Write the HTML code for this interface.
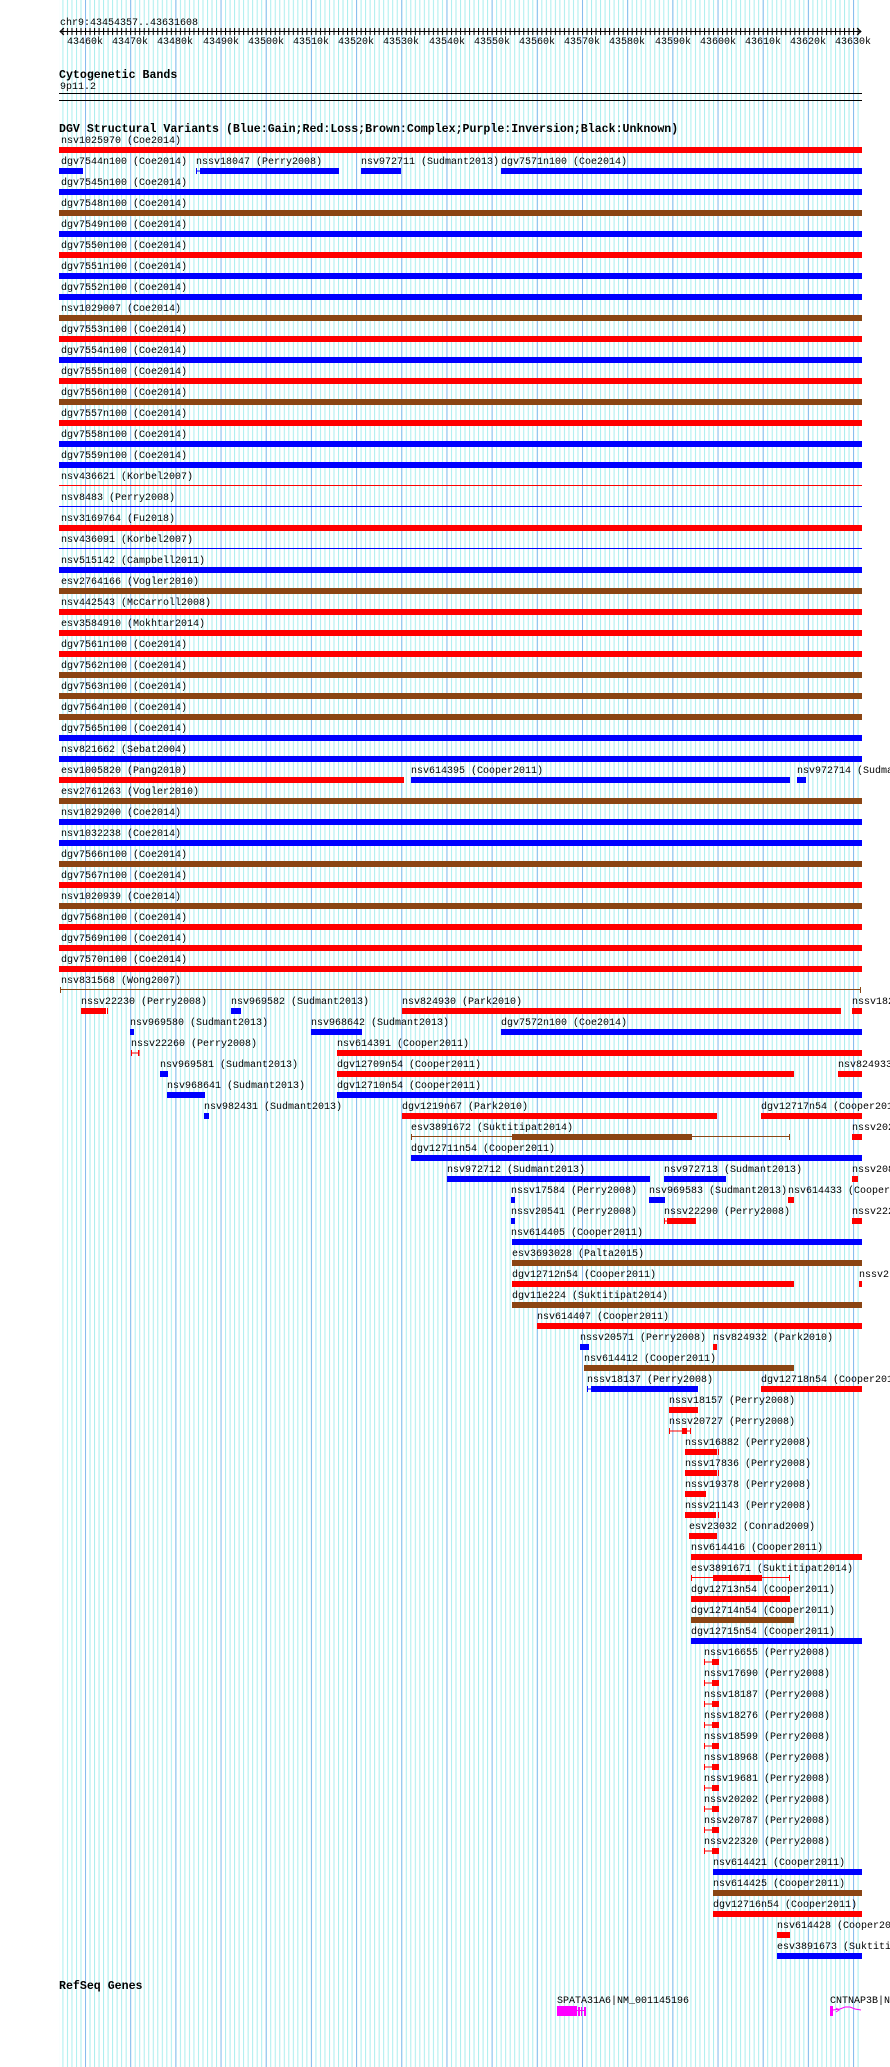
<!DOCTYPE html>
<html><head><meta charset="utf-8"><style>
html,body{margin:0;padding:0;background:#fff;}
svg{display:block;}
text{font-family:"Liberation Mono",monospace;font-size:10px;fill:#000;}
.b{font-weight:bold;font-size:11.6px;}
</style></head><body>
<svg width="890" height="2067" xmlns="http://www.w3.org/2000/svg">
<defs>
<pattern id="lg" patternUnits="userSpaceOnUse" x="85" y="0" width="4.518" height="10"><rect x="0" y="0" width="1" height="10" fill="#aaeeee"/></pattern>
<pattern id="dg" patternUnits="userSpaceOnUse" x="85" y="0" width="45.18" height="10"><rect x="0" y="0" width="1" height="10" fill="#88bbee"/></pattern>
</defs>
<rect x="59" y="0" width="800" height="2067" fill="url(#lg)"/>
<rect x="59" y="0" width="800" height="2067" fill="url(#dg)"/>

<!-- ruler -->
<text x="60" y="25">chr9:43454357..43631608</text>
<rect x="60" y="31" width="801" height="1" fill="#000"/>
<polyline points="64,28 60,31.5 64,35" fill="none" stroke="#000"/>
<polyline points="857,28 861,31.5 857,35" fill="none" stroke="#000"/>
<rect x="59.5" y="28" width="800" height="7" fill="url(#tk)"/>
<defs><pattern id="tk" patternUnits="userSpaceOnUse" x="85" y="0" width="4.518" height="40"><rect x="0" y="28" width="1" height="7" fill="#000"/></pattern></defs>
<g text-anchor="middle">
<text x="85" y="44">43460k</text><text x="130" y="44">43470k</text><text x="175" y="44">43480k</text><text x="221" y="44">43490k</text><text x="266" y="44">43500k</text><text x="311" y="44">43510k</text><text x="356" y="44">43520k</text><text x="401" y="44">43530k</text><text x="447" y="44">43540k</text><text x="492" y="44">43550k</text><text x="537" y="44">43560k</text><text x="582" y="44">43570k</text><text x="627" y="44">43580k</text><text x="673" y="44">43590k</text><text x="718" y="44">43600k</text><text x="763" y="44">43610k</text><text x="808" y="44">43620k</text><text x="853" y="44">43630k</text>
</g>

<text class="b" x="59" y="78">Cytogenetic Bands</text>
<text x="60" y="89">9p11.2</text>
<rect x="59" y="93" width="803" height="1" fill="#000"/>
<rect x="59" y="100" width="803" height="1" fill="#000"/>
<text class="b" x="59" y="132">DGV Structural Variants (Blue:Gain;Red:Loss;Brown:Complex;Purple:Inversion;Black:Unknown)</text>

<!-- rows 0-40 -->
<text x="61" y="143">nsv1025970 (Coe2014)</text><rect x="59" y="147" width="803" height="6" fill="#f00"/>
<text x="61" y="164">dgv7544n100 (Coe2014)</text><rect x="59" y="168" width="24" height="6" fill="#00f"/>
<text x="196" y="164">nssv18047 (Perry2008)</text><rect x="196" y="168" width="1" height="6" fill="#00f"/><rect x="196" y="170.5" width="5" height="1" fill="#00f"/><rect x="200" y="168" width="139" height="6" fill="#00f"/>
<text x="361" y="164">nsv972711 (Sudmant2013)</text><rect x="361" y="168" width="40" height="6" fill="#00f"/>
<text x="501" y="164">dgv7571n100 (Coe2014)</text><rect x="501" y="168" width="361" height="6" fill="#00f"/>
<text x="61" y="185">dgv7545n100 (Coe2014)</text><rect x="59" y="189" width="803" height="6" fill="#00f"/>
<text x="61" y="206">dgv7548n100 (Coe2014)</text><rect x="59" y="210" width="803" height="6" fill="#8b4513"/>
<text x="61" y="227">dgv7549n100 (Coe2014)</text><rect x="59" y="231" width="803" height="6" fill="#00f"/>
<text x="61" y="248">dgv7550n100 (Coe2014)</text><rect x="59" y="252" width="803" height="6" fill="#f00"/>
<text x="61" y="269">dgv7551n100 (Coe2014)</text><rect x="59" y="273" width="803" height="6" fill="#00f"/>
<text x="61" y="290">dgv7552n100 (Coe2014)</text><rect x="59" y="294" width="803" height="6" fill="#00f"/>
<text x="61" y="311">nsv1029007 (Coe2014)</text><rect x="59" y="315" width="803" height="6" fill="#8b4513"/>
<text x="61" y="332">dgv7553n100 (Coe2014)</text><rect x="59" y="336" width="803" height="6" fill="#f00"/>
<text x="61" y="353">dgv7554n100 (Coe2014)</text><rect x="59" y="357" width="803" height="6" fill="#00f"/>
<text x="61" y="374">dgv7555n100 (Coe2014)</text><rect x="59" y="378" width="803" height="6" fill="#f00"/>
<text x="61" y="395">dgv7556n100 (Coe2014)</text><rect x="59" y="399" width="803" height="6" fill="#8b4513"/>
<text x="61" y="416">dgv7557n100 (Coe2014)</text><rect x="59" y="420" width="803" height="6" fill="#f00"/>
<text x="61" y="437">dgv7558n100 (Coe2014)</text><rect x="59" y="441" width="803" height="6" fill="#00f"/>
<text x="61" y="458">dgv7559n100 (Coe2014)</text><rect x="59" y="462" width="803" height="6" fill="#00f"/>
<text x="61" y="479">nsv436621 (Korbel2007)</text><rect x="59" y="485" width="803" height="1" fill="#f00"/>
<text x="61" y="500">nsv8483 (Perry2008)</text><rect x="59" y="506" width="803" height="1" fill="#00f"/>
<text x="61" y="521">nsv3169764 (Fu2018)</text><rect x="59" y="525" width="803" height="6" fill="#f00"/>
<text x="61" y="542">nsv436091 (Korbel2007)</text><rect x="59" y="548" width="803" height="1" fill="#00f"/>
<text x="61" y="563">nsv515142 (Campbell2011)</text><rect x="59" y="567" width="803" height="6" fill="#00f"/>
<text x="61" y="584">esv2764166 (Vogler2010)</text><rect x="59" y="588" width="803" height="6" fill="#8b4513"/>
<text x="61" y="605">nsv442543 (McCarroll2008)</text><rect x="59" y="609" width="803" height="6" fill="#f00"/>
<text x="61" y="626">esv3584910 (Mokhtar2014)</text><rect x="59" y="630" width="803" height="6" fill="#f00"/>
<text x="61" y="647">dgv7561n100 (Coe2014)</text><rect x="59" y="651" width="803" height="6" fill="#f00"/>
<text x="61" y="668">dgv7562n100 (Coe2014)</text><rect x="59" y="672" width="803" height="6" fill="#8b4513"/>
<text x="61" y="689">dgv7563n100 (Coe2014)</text><rect x="59" y="693" width="803" height="6" fill="#8b4513"/>
<text x="61" y="710">dgv7564n100 (Coe2014)</text><rect x="59" y="714" width="803" height="6" fill="#8b4513"/>
<text x="61" y="731">dgv7565n100 (Coe2014)</text><rect x="59" y="735" width="803" height="6" fill="#00f"/>
<text x="61" y="752">nsv821662 (Sebat2004)</text><rect x="59" y="756" width="803" height="6" fill="#00f"/>
<text x="61" y="773">esv1005820 (Pang2010)</text><rect x="59" y="777" width="345" height="6" fill="#f00"/>
<text x="411" y="773">nsv614395 (Cooper2011)</text><rect x="411" y="777" width="379" height="6" fill="#00f"/>
<text x="797" y="773">nsv972714 (Sudma</text><rect x="797" y="777" width="9" height="6" fill="#00f"/>
<text x="61" y="794">esv2761263 (Vogler2010)</text><rect x="59" y="798" width="803" height="6" fill="#8b4513"/>
<text x="61" y="815">nsv1029200 (Coe2014)</text><rect x="59" y="819" width="803" height="6" fill="#00f"/>
<text x="61" y="836">nsv1032238 (Coe2014)</text><rect x="59" y="840" width="803" height="6" fill="#00f"/>
<text x="61" y="857">dgv7566n100 (Coe2014)</text><rect x="59" y="861" width="803" height="6" fill="#8b4513"/>
<text x="61" y="878">dgv7567n100 (Coe2014)</text><rect x="59" y="882" width="803" height="6" fill="#f00"/>
<text x="61" y="899">nsv1020939 (Coe2014)</text><rect x="59" y="903" width="803" height="6" fill="#8b4513"/>
<text x="61" y="920">dgv7568n100 (Coe2014)</text><rect x="59" y="924" width="803" height="6" fill="#f00"/>
<text x="61" y="941">dgv7569n100 (Coe2014)</text><rect x="59" y="945" width="803" height="6" fill="#f00"/>
<text x="61" y="962">dgv7570n100 (Coe2014)</text><rect x="59" y="966" width="803" height="6" fill="#f00"/>
<text x="61" y="983">nsv831568 (Wong2007)</text><rect x="60" y="989" width="801" height="1" fill="#8b4513"/><rect x="60" y="987" width="1" height="6" fill="#8b4513"/><rect x="860" y="987" width="1" height="6" fill="#8b4513"/>

<!-- row 41 -->
<text x="81" y="1004">nssv22230 (Perry2008)</text><rect x="81" y="1008" width="25" height="6" fill="#f00"/><rect x="107" y="1008" width="1" height="6" fill="#f00"/>
<text x="231" y="1004">nsv969582 (Sudmant2013)</text><rect x="231" y="1008" width="10" height="6" fill="#00f"/>
<text x="402" y="1004">nsv824930 (Park2010)</text><rect x="402" y="1008" width="439" height="6" fill="#f00"/>
<text x="852" y="1004">nssv182</text><rect x="852" y="1008" width="10" height="6" fill="#f00"/>
<!-- 42 -->
<text x="130" y="1025">nsv969580 (Sudmant2013)</text><rect x="130" y="1029" width="4" height="6" fill="#00f"/>
<text x="311" y="1025">nsv968642 (Sudmant2013)</text><rect x="311" y="1029" width="51" height="6" fill="#00f"/>
<text x="501" y="1025">dgv7572n100 (Coe2014)</text><rect x="501" y="1029" width="361" height="6" fill="#00f"/>
<!-- 43 -->
<text x="131" y="1046">nssv22260 (Perry2008)</text><rect x="131" y="1050" width="1" height="6" fill="#f00"/><rect x="131" y="1052.5" width="8" height="1" fill="#f00"/><rect x="138" y="1050" width="1.5" height="6" fill="#f00"/>
<text x="337" y="1046">nsv614391 (Cooper2011)</text><rect x="337" y="1050" width="525" height="6" fill="#f00"/>
<!-- 44 -->
<text x="160" y="1067">nsv969581 (Sudmant2013)</text><rect x="160" y="1071" width="8" height="6" fill="#00f"/>
<text x="337" y="1067">dgv12709n54 (Cooper2011)</text><rect x="337" y="1071" width="457" height="6" fill="#f00"/>
<text x="838" y="1067">nsv824933</text><rect x="838" y="1071" width="24" height="6" fill="#f00"/>
<!-- 45 -->
<text x="167" y="1088">nsv968641 (Sudmant2013)</text><rect x="167" y="1092" width="38" height="6" fill="#00f"/>
<text x="337" y="1088">dgv12710n54 (Cooper2011)</text><rect x="337" y="1092" width="525" height="6" fill="#00f"/>
<!-- 46 -->
<text x="204" y="1109">nsv982431 (Sudmant2013)</text><rect x="204" y="1113" width="5" height="6" fill="#00f"/>
<text x="402" y="1109">dgv1219n67 (Park2010)</text><rect x="402" y="1113" width="315" height="6" fill="#f00"/>
<text x="761" y="1109">dgv12717n54 (Cooper201</text><rect x="761" y="1113" width="101" height="6" fill="#f00"/>
<!-- 47 -->
<text x="411" y="1130">esv3891672 (Suktitipat2014)</text><rect x="411" y="1136" width="379" height="1" fill="#8b4513"/><rect x="411" y="1134" width="1" height="6" fill="#8b4513"/><rect x="789" y="1134" width="1" height="6" fill="#8b4513"/><rect x="512" y="1134" width="180" height="6" fill="#8b4513"/>
<text x="852" y="1130">nssv202</text><rect x="852" y="1134" width="10" height="6" fill="#f00"/>
<!-- 48 -->
<text x="411" y="1151">dgv12711n54 (Cooper2011)</text><rect x="411" y="1155" width="451" height="6" fill="#00f"/>
<!-- 49 -->
<text x="447" y="1172">nsv972712 (Sudmant2013)</text><rect x="447" y="1176" width="203" height="6" fill="#00f"/>
<text x="664" y="1172">nsv972713 (Sudmant2013)</text><rect x="664" y="1176" width="62" height="6" fill="#00f"/>
<text x="852" y="1172">nssv208</text><rect x="852" y="1176" width="6" height="6" fill="#f00"/>
<!-- 50 -->
<text x="511" y="1193">nssv17584 (Perry2008)</text><rect x="511" y="1197" width="4" height="6" fill="#00f"/>
<text x="649" y="1193">nsv969583 (Sudmant2013)</text><rect x="649" y="1197" width="16" height="6" fill="#00f"/>
<text x="788" y="1193">nsv614433 (Cooper</text><rect x="788" y="1197" width="6" height="6" fill="#f00"/>
<!-- 51 -->
<text x="511" y="1214">nssv20541 (Perry2008)</text><rect x="511" y="1218" width="4" height="6" fill="#00f"/>
<text x="664" y="1214">nssv22290 (Perry2008)</text><rect x="664" y="1218" width="1" height="6" fill="#f00"/><rect x="664" y="1220.5" width="3" height="1" fill="#f00"/><rect x="667" y="1218" width="29" height="6" fill="#f00"/>
<text x="852" y="1214">nssv222</text><rect x="852" y="1218" width="10" height="6" fill="#f00"/>
<!-- 52-58 -->
<text x="511" y="1235">nsv614405 (Cooper2011)</text><rect x="512" y="1239" width="350" height="6" fill="#00f"/>
<text x="512" y="1256">esv3693028 (Palta2015)</text><rect x="512" y="1260" width="350" height="6" fill="#8b4513"/>
<text x="512" y="1277">dgv12712n54 (Cooper2011)</text><rect x="512" y="1281" width="282" height="6" fill="#f00"/>
<text x="859" y="1277">nssv2</text><rect x="859" y="1281" width="3" height="6" fill="#f00"/>
<text x="512" y="1298">dgv11e224 (Suktitipat2014)</text><rect x="512" y="1302" width="350" height="6" fill="#8b4513"/>
<text x="537" y="1319">nsv614407 (Cooper2011)</text><rect x="537" y="1323" width="325" height="6" fill="#f00"/>
<text x="580" y="1340">nssv20571 (Perry2008)</text><rect x="580" y="1344" width="9" height="6" fill="#00f"/>
<text x="713" y="1340">nsv824932 (Park2010)</text><rect x="713" y="1344" width="4" height="6" fill="#f00"/>
<text x="584" y="1361">nsv614412 (Cooper2011)</text><rect x="584" y="1365" width="210" height="6" fill="#8b4513"/>
<!-- 59 -->
<text x="587" y="1382">nssv18137 (Perry2008)</text><rect x="587" y="1386" width="1" height="6" fill="#00f"/><rect x="587" y="1388.5" width="5" height="1" fill="#00f"/><rect x="591" y="1386" width="107" height="6" fill="#00f"/>
<text x="761" y="1382">dgv12718n54 (Cooper201</text><rect x="761" y="1386" width="101" height="6" fill="#f00"/>
<!-- 60-71 -->
<text x="669" y="1403">nssv18157 (Perry2008)</text><rect x="669" y="1407" width="29" height="6" fill="#f00"/>
<text x="669" y="1424">nssv20727 (Perry2008)</text><rect x="669" y="1430.5" width="22" height="1" fill="#f00"/><rect x="669" y="1428" width="1" height="6" fill="#f00"/><rect x="690" y="1428" width="1" height="6" fill="#f00"/><rect x="682" y="1428" width="5" height="6" fill="#f00"/>
<text x="685" y="1445">nssv16882 (Perry2008)</text><rect x="685" y="1449" width="32" height="6" fill="#f00"/><rect x="718" y="1449" width="1" height="6" fill="#f00"/>
<text x="685" y="1466">nssv17836 (Perry2008)</text><rect x="685" y="1470" width="32" height="6" fill="#f00"/><rect x="718" y="1470" width="1" height="6" fill="#f00"/>
<text x="685" y="1487">nssv19378 (Perry2008)</text><rect x="685" y="1491" width="21" height="6" fill="#f00"/>
<text x="685" y="1508">nssv21143 (Perry2008)</text><rect x="685" y="1512" width="31" height="6" fill="#f00"/><rect x="718" y="1512" width="1" height="6" fill="#f00"/>
<text x="689" y="1529">esv23032 (Conrad2009)</text><rect x="689" y="1533" width="28" height="6" fill="#f00"/>
<text x="691" y="1550">nsv614416 (Cooper2011)</text><rect x="691" y="1554" width="171" height="6" fill="#f00"/>
<text x="691" y="1571">esv3891671 (Suktitipat2014)</text><rect x="691" y="1577" width="99" height="1" fill="#f00"/><rect x="691" y="1575" width="1" height="6" fill="#f00"/><rect x="789" y="1575" width="1" height="6" fill="#f00"/><rect x="713" y="1575" width="49" height="6" fill="#f00"/>
<text x="691" y="1592">dgv12713n54 (Cooper2011)</text><rect x="691" y="1596" width="99" height="6" fill="#f00"/>
<text x="691" y="1613">dgv12714n54 (Cooper2011)</text><rect x="691" y="1617" width="103" height="6" fill="#8b4513"/>
<text x="691" y="1634">dgv12715n54 (Cooper2011)</text><rect x="691" y="1638" width="171" height="6" fill="#00f"/>
<!-- 72-81 -->
<g fill="#f00">
<text x="704" y="1655">nssv16655 (Perry2008)</text><rect x="704" y="1659" width="1" height="6"/><rect x="704" y="1661.5" width="8" height="1"/><rect x="712" y="1659" width="6" height="6"/><rect x="718" y="1659" width="1" height="6"/>
<text x="704" y="1676">nssv17690 (Perry2008)</text><rect x="704" y="1680" width="1" height="6"/><rect x="704" y="1682.5" width="8" height="1"/><rect x="712" y="1680" width="6" height="6"/><rect x="718" y="1680" width="1" height="6"/>
<text x="704" y="1697">nssv18187 (Perry2008)</text><rect x="704" y="1701" width="1" height="6"/><rect x="704" y="1703.5" width="8" height="1"/><rect x="712" y="1701" width="6" height="6"/><rect x="718" y="1701" width="1" height="6"/>
<text x="704" y="1718">nssv18276 (Perry2008)</text><rect x="704" y="1722" width="1" height="6"/><rect x="704" y="1724.5" width="8" height="1"/><rect x="712" y="1722" width="6" height="6"/><rect x="718" y="1722" width="1" height="6"/>
<text x="704" y="1739">nssv18599 (Perry2008)</text><rect x="704" y="1743" width="1" height="6"/><rect x="704" y="1745.5" width="8" height="1"/><rect x="712" y="1743" width="6" height="6"/><rect x="718" y="1743" width="1" height="6"/>
<text x="704" y="1760">nssv18968 (Perry2008)</text><rect x="704" y="1764" width="1" height="6"/><rect x="704" y="1766.5" width="8" height="1"/><rect x="712" y="1764" width="6" height="6"/><rect x="718" y="1764" width="1" height="6"/>
<text x="704" y="1781">nssv19681 (Perry2008)</text><rect x="704" y="1785" width="1" height="6"/><rect x="704" y="1787.5" width="8" height="1"/><rect x="712" y="1785" width="6" height="6"/><rect x="718" y="1785" width="1" height="6"/>
<text x="704" y="1802">nssv20202 (Perry2008)</text><rect x="704" y="1806" width="1" height="6"/><rect x="704" y="1808.5" width="8" height="1"/><rect x="712" y="1806" width="6" height="6"/><rect x="718" y="1806" width="1" height="6"/>
<text x="704" y="1823">nssv20787 (Perry2008)</text><rect x="704" y="1827" width="1" height="6"/><rect x="704" y="1829.5" width="8" height="1"/><rect x="712" y="1827" width="6" height="6"/><rect x="718" y="1827" width="1" height="6"/>
<text x="704" y="1844">nssv22320 (Perry2008)</text><rect x="704" y="1848" width="1" height="6"/><rect x="704" y="1850.5" width="8" height="1"/><rect x="712" y="1848" width="6" height="6"/><rect x="718" y="1848" width="1" height="6"/>
</g>
<!-- 82-86 -->
<text x="713" y="1865">nsv614421 (Cooper2011)</text><rect x="713" y="1869" width="149" height="6" fill="#00f"/>
<text x="713" y="1886">nsv614425 (Cooper2011)</text><rect x="713" y="1890" width="149" height="6" fill="#8b4513"/>
<text x="713" y="1907">dgv12716n54 (Cooper2011)</text><rect x="713" y="1911" width="149" height="6" fill="#f00"/>
<text x="777" y="1928">nsv614428 (Cooper20</text><rect x="777" y="1932" width="13" height="6" fill="#f00"/>
<text x="777" y="1949">esv3891673 (Suktiti</text><rect x="777" y="1953" width="85" height="6" fill="#00f"/>

<!-- RefSeq -->
<text class="b" x="59" y="1989">RefSeq Genes</text>
<text x="557" y="2003">SPATA31A6|NM_001145196</text>
<rect x="557" y="2006" width="20" height="10" fill="#f0f"/>
<rect x="577" y="2010" width="9" height="1" fill="#f0f"/>
<rect x="578" y="2007" width="2" height="9" fill="#f0f"/><rect x="581" y="2007" width="1" height="9" fill="#f0f"/><rect x="584" y="2007" width="2" height="9" fill="#f0f"/>
<text x="830" y="2003">CNTNAP3B|N</text>
<rect x="830" y="2006" width="3" height="10" fill="#f0f"/>
<polyline points="833,2010 840,2009 845,2007 850,2007 855,2009 861,2010" fill="none" stroke="#f0f" stroke-width="1"/>
<polyline points="836,2008 839,2010 836,2012" fill="none" stroke="#f0f" stroke-width="1"/>
</svg>
</body></html>
